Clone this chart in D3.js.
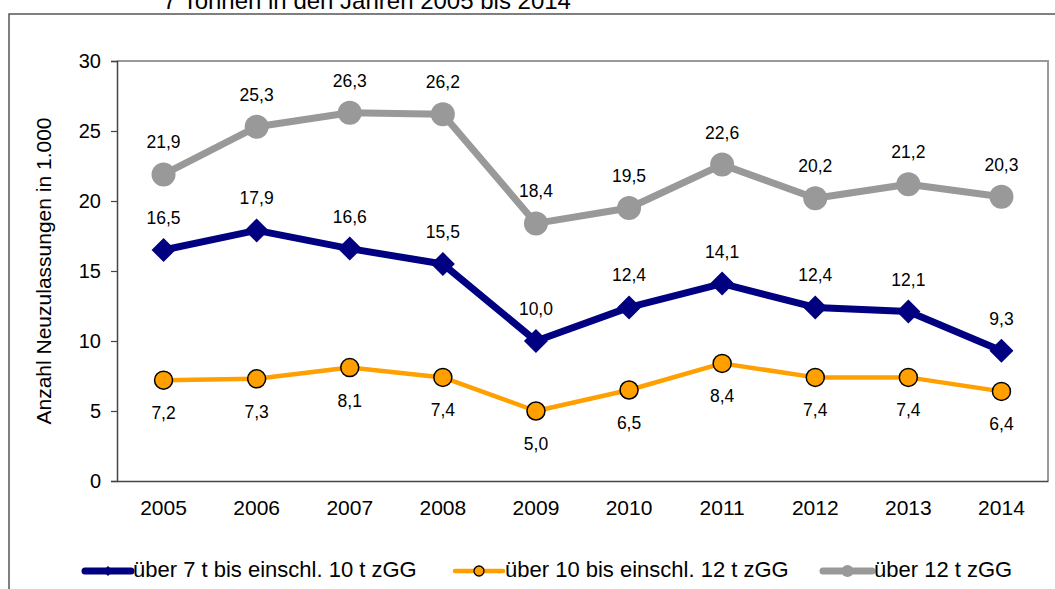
<!DOCTYPE html>
<html><head><meta charset="utf-8">
<script src="https://cdn.jsdelivr.net/npm/d3@7"></script>
<style>body{margin:0;background:#fff}svg{display:block;font-family:"Liberation Sans",Arial,sans-serif}</style>
</head><body>
<svg id="c" width="1055" height="589"></svg>
<script>
const years = ["2005","2006","2007","2008","2009","2010","2011","2012","2013","2014"];
const s7to10 = [16.5,17.9,16.6,15.5,10.0,12.4,14.1,12.4,12.1,9.3];
const s10to12 = [7.2,7.3,8.1,7.4,5.0,6.5,8.4,7.4,7.4,6.4];
const s12plus = [21.9,25.3,26.3,26.2,18.4,19.5,22.6,20.2,21.2,20.3];
const yTicks = [0,5,10,15,20,25,30];
const seriesNames = ["über 7 t bis einschl. 10 t zGG","über 10 bis einschl. 12 t zGG","über 12 t zGG"];
const titleText = "7 Tonnen in den Jahren 2005 bis 2014";
const yTitle = "Anzahl Neuzulassungen in 1.000";

const FF = "Liberation Sans, Arial, sans-serif";
const svg = d3.select("#c");
const L=117,R=1048,T=61,B=481;
const x = d3.scaleBand().domain(years).range([L,R]);
const y = d3.scaleLinear().domain([0,30]).range([B,T]);
const fmt = v => d3.format(".1f")(v).replace(".",",");

// outer frame
svg.append("rect").attr("x",9).attr("y",14).attr("width",1080).attr("height",600)
  .attr("fill","none").attr("stroke","#555").attr("stroke-width",1.5);
svg.append("text").attr("x",367).attr("y",9).attr("text-anchor","middle")
  .attr("font-size",24).attr("fill","#000").text(titleText);

// plot border top/right
svg.append("path").attr("d",`M${L},${T}H${R}V${B}`).attr("fill","none")
  .attr("stroke","#999").attr("stroke-width",2);

// y axis
const ya = svg.append("g").attr("transform",`translate(${L},0)`)
  .call(d3.axisLeft(y).tickValues(yTicks).tickSize(6).tickPadding(10).tickFormat(d3.format("d")));
ya.select(".domain").attr("stroke","#444").attr("stroke-width",1.5);
ya.selectAll(".tick line").attr("stroke","#444").attr("stroke-width",1.2);
ya.selectAll("text").attr("font-size",20).attr("fill","#000").attr("font-family",FF);

// x axis
const xa = svg.append("g").attr("transform",`translate(0,${B})`)
  .call(d3.axisBottom(x).tickSize(0).tickPadding(19));
xa.select(".domain").attr("stroke","#444").attr("stroke-width",1.5);
xa.selectAll("text").attr("font-size",21).attr("fill","#000").attr("font-family",FF);

svg.append("text").attr("transform",`translate(51,${(T+B)/2}) rotate(-90)`)
  .attr("text-anchor","middle").attr("font-size",21).text(yTitle);

const cx = d => x(d)+x.bandwidth()/2;
const line = d3.line().x(d=>cx(d[0])).y(d=>y(d[1]));
const diamond = r => `M0,${-r}L${r},0L0,${r}L${-r},0Z`;

// grey series
const g3 = years.map((d,i)=>[d,s12plus[i]]);
svg.append("path").datum(g3).attr("d",line).attr("fill","none").attr("stroke","#999").attr("stroke-width",7).attr("stroke-linejoin","round");
svg.selectAll(".m3").data(g3).join("circle").attr("cx",d=>cx(d[0])).attr("cy",d=>y(d[1])).attr("r",12).attr("fill","#999");

// navy
const g1 = years.map((d,i)=>[d,s7to10[i]]);
svg.append("path").datum(g1).attr("d",line).attr("fill","none").attr("stroke","#000080").attr("stroke-width",7).attr("stroke-linejoin","round");
svg.selectAll(".m1").data(g1).join("path").attr("transform",d=>`translate(${cx(d[0])},${y(d[1])})`).attr("d",diamond(12)).attr("fill","#000080");

// orange
const g2 = years.map((d,i)=>[d,s10to12[i]]);
svg.append("path").datum(g2).attr("d",line).attr("fill","none").attr("stroke","#FFA000").attr("stroke-width",4.5).attr("stroke-linejoin","round");
svg.selectAll(".m2").data(g2).join("circle").attr("cx",d=>cx(d[0])).attr("cy",d=>y(d[1])).attr("r",9).attr("fill","#FFA000").attr("stroke","#000").attr("stroke-width",1.5);

// labels
function labels(data, dy){
  svg.append("g").selectAll("text").data(data).join("text")
    .attr("x",d=>cx(d[0])).attr("y",d=>y(d[1])+dy).attr("text-anchor","middle")
    .attr("font-size",17.5).attr("fill","#000").text(d=>fmt(d[1]));
}
labels(g3,-26); labels(g1,-26); labels(g2,39);

// legend
const lg = svg.append("g");
const ly = 571;
const items = [
  {x0:85,x1:131,tx:133,name:seriesNames[0],col:"#000080",w:7,m:"d"},
  {x0:455,x1:503,tx:505,name:seriesNames[1],col:"#FFA000",w:4.5,m:"o"},
  {x0:823,x1:872,tx:874,name:seriesNames[2],col:"#999",w:7,m:"g"}
];
items.forEach(it=>{
  lg.append("line").attr("x1",it.x0).attr("x2",it.x1).attr("y1",ly).attr("y2",ly).attr("stroke",it.col).attr("stroke-width",it.w).attr("stroke-linecap","round");
  const mx=(it.x0+it.x1)/2;
  if(it.m==="d") lg.append("path").attr("transform",`translate(${mx},${ly})`).attr("d",diamond(5)).attr("fill",it.col);
  if(it.m==="o") lg.append("circle").attr("cx",mx).attr("cy",ly).attr("r",5).attr("fill",it.col).attr("stroke","#000").attr("stroke-width",1.3);
  if(it.m==="g") lg.append("circle").attr("cx",mx).attr("cy",ly).attr("r",6).attr("fill",it.col);
  lg.append("text").attr("x",it.tx).attr("y",ly+6).attr("font-size",22).text(it.name);
});
</script>
</body></html>
